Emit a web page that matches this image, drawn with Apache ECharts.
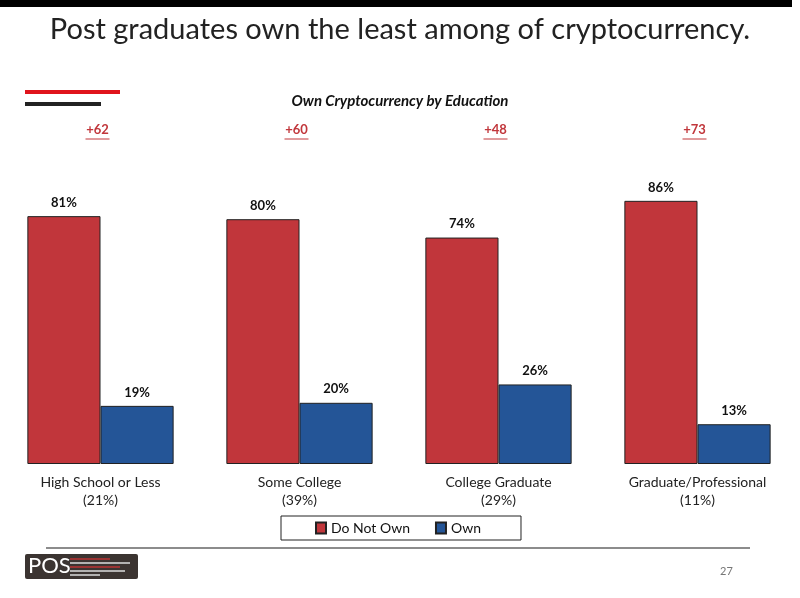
<!DOCTYPE html>
<html>
<head>
<meta charset="utf-8">
<script src="https://cdn.jsdelivr.net/npm/echarts@6/dist/echarts.min.js"></script>
<style>
  html, body { margin: 0; padding: 0; background: #fff; }
  #main { width: 800px; height: 598px; }
</style>
</head>
<body>
<div id="main"></div>
<script>
// data
var categories = ['High School or Less\n(21%)', 'Some College\n(39%)', 'College Graduate\n(29%)', 'Graduate/Professional\n(11%)'];
var doNotOwn = [81, 80, 74, 86];
var own = [19, 20, 26, 13];
var gaps = ['+62', '+60', '+48', '+73'];

var font = 'Lato, "Open Sans", sans-serif';
var chartDom = document.getElementById('main');
var myChart = echarts.init(chartDom);
var option;

option = {
  backgroundColor: '#fff',
  textStyle: { fontFamily: font },
  title: [
    {
      text: 'Post graduates own the least among of cryptocurrency.',
      left: 'center',
      top: 10,
      textStyle: { fontSize: 29, fontWeight: 'normal', color: '#222', fontFamily: font }
    },
    {
      text: 'Own Cryptocurrency by Education',
      left: 'center',
      top: 89,
      textStyle: { fontSize: 15, fontWeight: 'bold', fontStyle: 'italic', color: '#111', fontFamily: font }
    }
  ],
  legend: {
    data: ['Do Not Own', 'Own'],
    left: 281,
    top: 516,
    itemWidth: 10,
    itemHeight: 11,
    itemGap: 25,
    icon: 'rect',
    borderColor: '#222',
    borderWidth: 1,
    padding: [5, 40, 5, 34],
    textStyle: { fontSize: 14, color: '#111', fontFamily: font }
  },
  grid: {
    left: 1,
    right: 3,
    top: 158,
    height: 306,
    containLabel: false
  },
  xAxis: {
    type: 'category',
    data: categories,
    axisTick: { show: false },
    axisLine: { show: false },
    axisLabel: { fontSize: 14, color: '#222', lineHeight: 18, margin: 9, fontFamily: font }
  },
  yAxis: {
    type: 'value',
    min: 0,
    max: 100,
    show: false
  },
  series: [
    {
      name: 'Do Not Own',
      type: 'bar',
      data: doNotOwn,
      barGap: '0%',
      barCategoryGap: '26.5%',
      itemStyle: { color: '#c1363b', borderColor: '#222', borderWidth: 1 },
      label: { show: true, position: 'top', formatter: '{c}%', fontSize: 13, fontWeight: 'bold', color: '#111', distance: 7 }
    },
    {
      name: 'Own',
      type: 'bar',
      data: own,
      itemStyle: { color: '#245597', borderColor: '#222', borderWidth: 1 },
      label: { show: true, position: 'top', formatter: '{c}%', fontSize: 13, fontWeight: 'bold', color: '#111', distance: 7 }
    }
  ]
};

option && myChart.setOption(option);

// decorations and gap labels above each group
var els = [
  { type: 'rect', shape: { x: 0, y: 0, width: 792, height: 7 }, style: { fill: '#000' } },
  { type: 'rect', shape: { x: 25, y: 90, width: 95, height: 4 }, style: { fill: '#e0141c' } },
  { type: 'rect', shape: { x: 25, y: 102, width: 76, height: 4 }, style: { fill: '#222' } },
  { type: 'line', shape: { x1: 46, y1: 548, x2: 750, y2: 548 }, style: { stroke: '#666', lineWidth: 1.5 } },
  { type: 'rect', shape: { x: 25, y: 554, width: 113, height: 25, r: 2 }, style: { fill: '#3b3431' } },
  { type: 'text', x: 28, y: 566, style: { text: 'POS', fill: '#fff', font: '22px ' + font, verticalAlign: 'middle' } },
  { type: 'line', shape: { x1: 70, y1: 559, x2: 110, y2: 559 }, style: { stroke: '#b33', lineWidth: 1.5 } },
  { type: 'line', shape: { x1: 70, y1: 563, x2: 130, y2: 563 }, style: { stroke: '#ddd', lineWidth: 1.5 } },
  { type: 'line', shape: { x1: 70, y1: 567, x2: 120, y2: 567 }, style: { stroke: '#b33', lineWidth: 1.5 } },
  { type: 'line', shape: { x1: 70, y1: 571, x2: 125, y2: 571 }, style: { stroke: '#ddd', lineWidth: 1.5 } },
  { type: 'line', shape: { x1: 70, y1: 575, x2: 100, y2: 575 }, style: { stroke: '#ddd', lineWidth: 1.5 } },
  { type: 'text', x: 720, y: 566, style: { text: '27', fill: '#777', font: '11px ' + font } }
];
for (var i = 0; i < gaps.length; i++) {
  var cx = myChart.convertToPixel({ xAxisIndex: 0 }, i) - 3;
  els.push({ type: 'text', x: cx, y: 130, style: { text: gaps[i], fill: '#c1363b', font: 'bold 13px ' + font, align: 'center', verticalAlign: 'middle' } });
  els.push({ type: 'line', shape: { x1: cx - 12, y1: 139, x2: cx + 12, y2: 139 }, style: { stroke: '#c1363b', lineWidth: 1 } });
}
myChart.setOption({ graphic: { elements: els } });
</script>
</body>
</html>
